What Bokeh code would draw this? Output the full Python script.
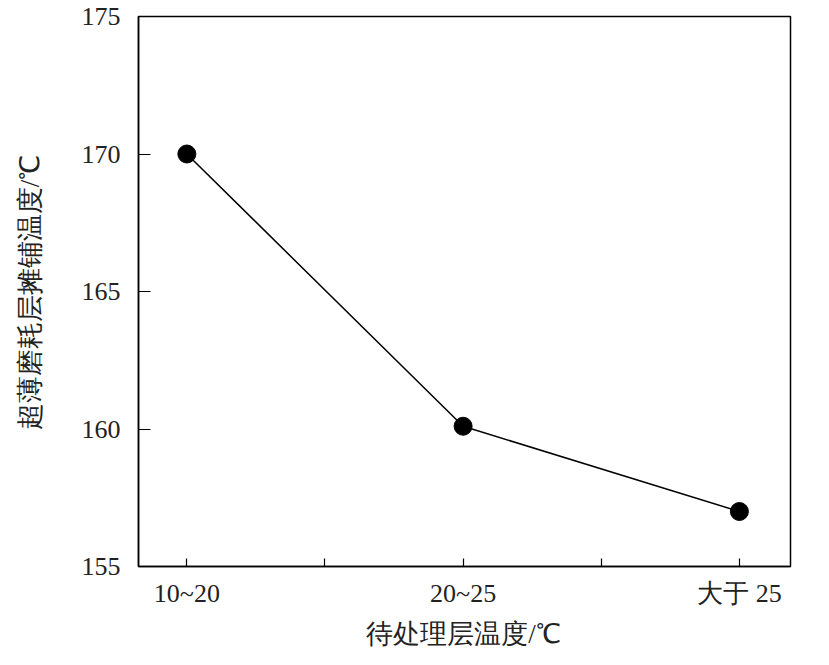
from bokeh.plotting import figure
from bokeh.models import Range1d, FixedTicker
from bokeh.embed import file_html
from bokeh.resources import INLINE

categories = ["10~20", "20~25", "大于 25"]
x_pos = [1, 2, 3]
values = [170.0, 160.1, 157.0]
y_ticks = [155, 160, 165, 170, 175]

p = figure(width=820, height=660, output_backend="svg", toolbar_location=None,
           x_range=Range1d(0.825, 3.185), y_range=Range1d(155, 175),
           min_border_left=138, min_border_top=16, min_border_right=30, min_border_bottom=94)
p.grid.visible = False
p.background_fill_color = "white"
p.border_fill_color = "white"
p.outline_line_color = "black"
p.outline_line_width = 1.5

p.line(x_pos, values, line_color="black", line_width=1.5)
p.scatter(x_pos, values, size=18, fill_color="black", line_color="black")

font = "Liberation Serif"
p.xaxis.ticker = FixedTicker(ticks=[1, 1.5, 2, 2.5, 3])
p.xaxis.major_label_overrides = {1: categories[0], 1.5: "", 2: categories[1], 2.5: "", 3: categories[2]}
p.yaxis.ticker = FixedTicker(ticks=y_ticks)
for ax in (p.xaxis[0], p.yaxis[0]):
    ax.axis_line_color = "black"
    ax.axis_line_width = 1.5
    ax.major_tick_line_color = "black"
    ax.major_tick_line_width = 1.2
    ax.major_tick_out = 0
    ax.minor_tick_line_color = None
    ax.major_label_text_font = font
    ax.major_label_text_font_size = "26px"
    ax.major_label_text_color = "#222222"
    ax.axis_label_text_font = font
    ax.axis_label_text_font_size = "27px"
    ax.axis_label_text_font_style = "normal"
    ax.axis_label_text_color = "#222222"
p.xaxis.major_tick_in = 8
p.yaxis.major_tick_in = 12
p.xaxis.major_label_standoff = 12
p.yaxis.major_label_standoff = 18
p.xaxis.axis_label = "待处理层温度/℃"
p.yaxis.axis_label = "超薄磨耗层摊铺温度/℃"
p.xaxis.axis_label_standoff = 8
p.yaxis.axis_label_standoff = 34

open("out.html", "w").write(file_html(p, INLINE))
